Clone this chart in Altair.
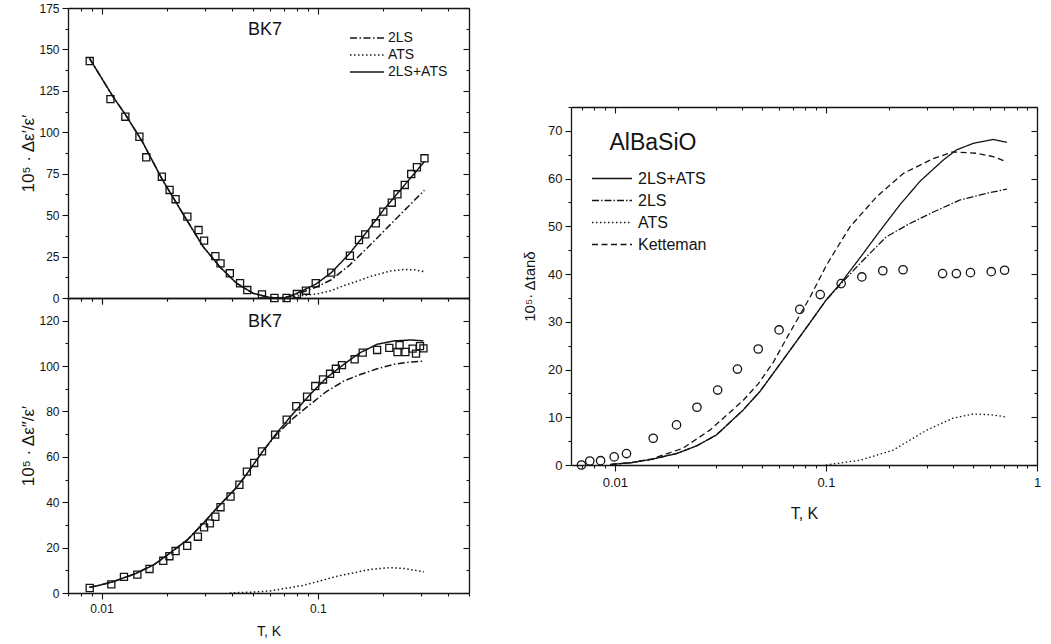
import altair as alt
import pandas as pd

FONT = "Liberation Sans"
INK = "#141414"

# ---------------- BK7, Δε'/ε' (upper left) ----------------
TOP_SQ_T = [0.00882, 0.0110, 0.01289, 0.01497, 0.0161, 0.01901, 0.02064, 0.0220, 0.02494, 0.0281,
            0.0298, 0.0336, 0.0355, 0.0392, 0.0437, 0.0472, 0.0552, 0.0630, 0.0717, 0.0800,
            0.0881, 0.0978, 0.1154, 0.1407, 0.155, 0.1657, 0.1855, 0.2008, 0.2198, 0.2334,
            0.2524, 0.2703, 0.2872, 0.3112]
TOP_SQ_V = [143, 120, 109.4, 97.3, 84.9, 73.2, 65.2, 59.6, 49.1, 41,
            34.6, 25.3, 20.9, 14.9, 8.9, 4.8, 2.2, 0, 0, 2.4,
            4.4, 8.9, 15.3, 25.5, 35, 38.4, 45.1, 52.1, 57.5, 62.6,
            68.2, 74.8, 78.9, 84.3]
TOP_SUM_T = [0.0088, 0.0113, 0.0130, 0.0155, 0.019, 0.024, 0.0295, 0.0352, 0.0421, 0.0503,
             0.060, 0.070, 0.080, 0.098, 0.1155, 0.1406, 0.1687, 0.2008, 0.252, 0.311]
TOP_SUM_V = [144.6, 121.5, 110, 94, 72, 50, 31, 18.9, 8.9, 2.8,
             0.3, 0, 2.8, 8.4, 15.3, 27, 40, 53, 68.2, 82.3]
TOP_2LS_T = [0.0088, 0.0113, 0.0130, 0.0155, 0.019, 0.024, 0.0295, 0.0352, 0.0421, 0.0503,
             0.060, 0.070, 0.080, 0.098, 0.1155, 0.1406, 0.1687, 0.2008, 0.252, 0.311]
TOP_2LS_V = [144.6, 121.5, 110, 94, 72, 50, 31, 18.9, 8.9, 2.8,
             0.3, 0, 2.3, 6.5, 11, 20, 30, 40, 53, 65]
TOP_ATS_T = [0.060, 0.070, 0.080, 0.099, 0.1155, 0.132, 0.147, 0.175, 0.2166, 0.2516, 0.28, 0.311]
TOP_ATS_V = [0, 0.5, 1.2, 2.4, 4.5, 7.5, 9.5, 13, 16.3, 17.2, 17.0, 15.9]

# ---------------- BK7, Δε''/ε' (lower left) ----------------
BOT_SQ_T = [0.00882, 0.0111, 0.0127, 0.01465, 0.01667, 0.0193, 0.0206, 0.0220, 0.0249, 0.0279,
            0.0298, 0.0317, 0.0336, 0.0355, 0.0395, 0.0434, 0.0470, 0.0508, 0.0552, 0.0635,
            0.0718, 0.0795, 0.0892, 0.0973, 0.1057, 0.1139, 0.1212, 0.1293, 0.148, 0.1613,
            0.188, 0.214, 0.2335, 0.2387, 0.2541, 0.2743, 0.2845, 0.2968, 0.3079]
BOT_SQ_V = [2.2, 3.8, 7.1, 8.1, 10.6, 14.2, 16.2, 18.5, 20.8, 24.8,
            28.9, 30.7, 33.6, 37.8, 42.5, 47.7, 53.5, 57.3, 62.4, 69.8,
            76.4, 82.3, 86.5, 91.2, 94.1, 96.6, 98.8, 100.4, 103, 105.9,
            107.1, 108, 106.2, 109.2, 106.2, 107.7, 105.5, 108.8, 107.8]
BOT_SUM_T = [0.0088, 0.0098, 0.0115, 0.0144, 0.0175, 0.0206, 0.025, 0.0295, 0.035, 0.0421, 0.047,
             0.0552, 0.0646, 0.0774, 0.0921, 0.110, 0.132, 0.157, 0.188, 0.2254, 0.27, 0.308]
BOT_SUM_V = [2.5, 3.4, 5.2, 8.6, 12.5, 17.4, 23.5, 30.7, 38.5, 46.5, 52.5,
             62, 70.5, 79.4, 87.5, 94.9, 100.8, 105.9, 109.6, 111.1, 111.5, 111.1]
BOT_2LS_T = [0.0088, 0.0098, 0.0115, 0.0144, 0.0175, 0.0206, 0.025, 0.0295, 0.035, 0.0421, 0.047,
             0.0552, 0.0646, 0.0774, 0.0921, 0.110, 0.132, 0.157, 0.188, 0.2254, 0.27, 0.308]
BOT_2LS_V = [2.5, 3.4, 5.2, 8.6, 12.5, 17.4, 23.5, 30.7, 38.5, 46.5, 52.5,
             62, 70, 77.2, 83.1, 88.9, 93.4, 96.3, 98.8, 100.8, 101.8, 102.2]
BOT_ATS_T = [0.0392, 0.05, 0.060, 0.086, 0.123, 0.175, 0.217, 0.252, 0.309]
BOT_ATS_V = [0, 0.4, 0.9, 3.4, 7.4, 10.4, 11.2, 10.8, 9.3]

# ---------------- AlBaSiO, Δtanδ (right) ----------------
R_CIRC_T = [0.00695, 0.00761, 0.00856, 0.00993, 0.01136, 0.0152, 0.0196, 0.0245, 0.0307, 0.0381,
            0.0478, 0.0600, 0.0752, 0.0940, 0.1181, 0.148, 0.186, 0.232, 0.357, 0.415,
            0.484, 0.607, 0.702]
R_CIRC_V = [0, 0.84, 0.9, 1.7, 2.4, 5.6, 8.4, 12.1, 15.7, 20.1,
            24.3, 28.3, 32.6, 35.7, 38.0, 39.4, 40.7, 40.9, 40.1, 40.1,
            40.3, 40.5, 40.8]
R_SUM_T = [0.0095, 0.012, 0.015, 0.0196, 0.0244, 0.0303, 0.0405, 0.0487, 0.065, 0.0837, 0.1,
           0.118, 0.145, 0.18, 0.224, 0.28, 0.36, 0.415, 0.5, 0.62, 0.72]
R_SUM_V = [0.1, 0.5, 1.2, 2.4, 4.0, 6.3, 11.5, 15.4, 23, 29.7, 34.5,
           38.2, 43.4, 49, 54.5, 59.5, 63.9, 66, 67.4, 68.2, 67.6]
R_2LS_T = [0.0095, 0.012, 0.015, 0.0196, 0.0244, 0.0303, 0.0405, 0.0487, 0.065, 0.0837, 0.1,
           0.118, 0.145, 0.193, 0.25, 0.323, 0.43, 0.575, 0.72]
R_2LS_V = [0.1, 0.5, 1.2, 2.4, 4.0, 6.3, 11.5, 15.4, 23, 29.7, 34.5,
           38.0, 42.2, 47.8, 50.6, 53, 55.5, 56.9, 57.8]
R_ATS_T = [0.1, 0.145, 0.208, 0.30, 0.40, 0.50, 0.62, 0.72]
R_ATS_V = [0, 1, 3.1, 7.3, 9.8, 10.7, 10.5, 10]
R_KET_T = [0.0095, 0.012, 0.015, 0.021, 0.0282, 0.0405, 0.0478, 0.0563, 0.066, 0.0837,
           0.101, 0.13, 0.174, 0.233, 0.323, 0.40, 0.519, 0.62, 0.72]
R_KET_V = [0.1, 0.5, 1.3, 3.5, 7.3, 13.5, 17, 21.5, 27, 35,
           42, 49.9, 56.2, 61.1, 64.2, 65.6, 65.3, 64.6, 63.5]

# ---------------- ticks / labels ----------------
X_TICKS_LEFT = [0.007, 0.008, 0.009, 0.01, 0.02, 0.03, 0.04, 0.05, 0.06, 0.07, 0.08, 0.09,
                0.1, 0.2, 0.3, 0.4, 0.5]
X_TICKS_RIGHT = [0.007, 0.008, 0.009, 0.01, 0.02, 0.03, 0.04, 0.05, 0.06, 0.07, 0.08, 0.09,
                 0.1, 0.2, 0.3, 0.4, 0.5, 0.6, 0.7, 0.8, 0.9, 1]
Y_TICKS_TOP = [0, 12.5, 25, 37.5, 50, 62.5, 75, 87.5, 100, 112.5, 125, 137.5, 150, 162.5, 175]
Y_TICKS_BOT = [0, 10, 20, 30, 40, 50, 60, 70, 80, 90, 100, 110, 120, 130]
Y_TICKS_R = [0, 5, 10, 15, 20, 25, 30, 35, 40, 45, 50, 55, 60, 65, 70, 75]

LEFT_SERIES = ["2LS", "ATS", "2LS+ATS"]
RIGHT_SERIES = ["2LS+ATS", "2LS", "ATS", "Ketteman"]
DASH_LEFT = [[7, 2.5, 1.5, 2.5], [1.5, 2.5], [1, 0]]
DASH_RIGHT = [[1, 0], [7, 2, 1.5, 2], [1.5, 2.5], [6, 3.5]]

MAJOR_LOG = "abs(log(datum.value)/LN10 - round(log(datum.value)/LN10)) < 0.001"
LEGEND_LINE = "M-2,0H2"


def long_df(series):
    rows = []
    for name, (ts, vs) in series.items():
        for t, v in zip(ts, vs):
            rows.append({"T": t, "v": v, "series": name})
    return pd.DataFrame(rows)


def tsize(test, major, minor):
    return {"condition": {"test": test, "value": major}, "value": minor}


def make_axis(values, orient, test, labels, fs, title=None, tfs=14, inward=False,
              label_expr=None, fmt=None, label_pad=3, title_pad=6):
    kw = dict(values=values, orient=orient, grid=False, domainColor=INK, domainWidth=1.3,
              tickColor=INK, tickWidth=1.1,
              tickSize=tsize(test, -6 if inward else 6, -3 if inward else 3),
              labelFlush=False, labelOverlap=False)
    if labels:
        kw.update(labelExpr=label_expr, labelFont=FONT, labelFontSize=fs, labelColor=INK,
                  labelPadding=label_pad)
        if fmt:
            kw.update(format=fmt)
    else:
        kw.update(labels=False)
    if title:
        kw.update(title=title, titleFont=FONT, titleFontSize=tfs, titleFontWeight="normal",
                  titleColor=INK, titlePadding=title_pad)
    else:
        kw.update(title=None)
    return alt.Axis(**kw)


def panel(curves, pts, xdom, xticks, ydom, yticks, ymaj, width, height,
          shape, msize, dash_dom, dash_rng, legend, label_text, label_xy, label_fs,
          xlabels, xtitle, ytitle, fs, xtfs, ytfs, xtitle_pad, ytitle_pad, lw, xlabel_pad):
    xs = alt.Scale(type="log", domain=xdom, nice=False)
    ys = alt.Scale(domain=ydom, nice=False, zero=False)
    y_test = f"datum.value % {ymaj} == 0"
    x_bottom = make_axis(xticks, "bottom", MAJOR_LOG, xlabels, fs, xtitle, xtfs,
                         label_expr=f"{MAJOR_LOG} ? datum.label : ''", fmt="~g",
                         label_pad=xlabel_pad, title_pad=xtitle_pad)
    y_left = make_axis(yticks, "left", y_test, True, fs, ytitle, ytfs,
                       label_expr=f"{y_test} ? datum.label : ''", label_pad=3,
                       title_pad=ytitle_pad)
    x_top = make_axis(xticks, "top", MAJOR_LOG, False, fs, inward=True)
    y_right = make_axis(yticks, "right", y_test, False, fs, inward=True)

    lines = alt.Chart(curves).mark_line(strokeWidth=lw, color=INK).encode(
        x=alt.X("T:Q", scale=xs, axis=x_bottom),
        y=alt.Y("v:Q", scale=ys, axis=y_left),
        strokeDash=alt.StrokeDash("series:N", scale=alt.Scale(domain=dash_dom, range=dash_rng),
                                  legend=legend),
    )
    marks = alt.Chart(pts).mark_point(shape=shape, filled=False, size=msize, color=INK,
                                      strokeWidth=1.3, opacity=1).encode(
        x=alt.X("T:Q", scale=xs, axis=None),
        y=alt.Y("v:Q", scale=ys, axis=None),
    )
    frame = alt.Chart(pts).mark_point(opacity=0).encode(
        x=alt.X("T:Q", scale=xs, axis=x_top),
        y=alt.Y("v:Q", scale=ys, axis=y_right),
    )
    text = alt.Chart(pd.DataFrame({"label": [label_text]})).mark_text(
        font=FONT, fontSize=label_fs, color=INK, align="center", baseline="middle").encode(
        text="label:N", x=alt.value(label_xy[0]), y=alt.value(label_xy[1]))
    return alt.layer(lines, marks, frame, text).resolve_axis(
        x="independent", y="independent").properties(width=width, height=height)


top_curves = long_df({"2LS": (TOP_2LS_T, TOP_2LS_V), "ATS": (TOP_ATS_T, TOP_ATS_V),
                      "2LS+ATS": (TOP_SUM_T, TOP_SUM_V)})
bot_curves = long_df({"2LS": (BOT_2LS_T, BOT_2LS_V), "ATS": (BOT_ATS_T, BOT_ATS_V),
                      "2LS+ATS": (BOT_SUM_T, BOT_SUM_V)})
r_curves = long_df({"2LS": (R_2LS_T, R_2LS_V), "ATS": (R_ATS_T, R_ATS_V),
                    "Ketteman": (R_KET_T, R_KET_V), "2LS+ATS": (R_SUM_T, R_SUM_V)})
top_pts = pd.DataFrame({"T": TOP_SQ_T, "v": TOP_SQ_V})
bot_pts = pd.DataFrame({"T": BOT_SQ_T, "v": BOT_SQ_V})
r_pts = pd.DataFrame({"T": R_CIRC_T, "v": R_CIRC_V})

legend_top = alt.Legend(orient="none", legendX=289.5, legendY=20.5, title=None,
                        symbolType=LEGEND_LINE, symbolSize=289, symbolStrokeWidth=1.3,
                        symbolStrokeColor=INK, labelFont=FONT, labelFontSize=14, labelColor=INK,
                        rowPadding=0, labelOffset=11.5, padding=0)
legend_right = alt.Legend(orient="none", legendX=30, legendY=60.5, title=None,
                          symbolType=LEGEND_LINE, symbolSize=400, symbolStrokeWidth=1.3,
                          symbolStrokeColor=INK, labelFont=FONT, labelFontSize=16, labelColor=INK,
                          rowPadding=3, labelOffset=15, padding=0)

top = panel(top_curves, top_pts, [0.007, 0.5], X_TICKS_LEFT, [0, 175], Y_TICKS_TOP, 25,
            401, 290, "square", 50, LEFT_SERIES, DASH_LEFT, legend_top, "BK7", (197, 22), 18,
            False, None, "10⁵ · Δε′/ε′", 12, 14, 17, 8, 1, 1.5, 3)
bottom = panel(bot_curves, bot_pts, [0.007, 0.5], X_TICKS_LEFT, [0, 130], Y_TICKS_BOT, 20,
               401, 295, "square", 50, LEFT_SERIES, DASH_LEFT, None, "BK7", (197, 24), 18,
               True, "T, K", "10⁵ · Δε″/ε′", 12, 14, 17, 10, 1, 1.5, 4)
right = panel(r_curves, r_pts, [0.0062, 1], X_TICKS_RIGHT, [0, 75], Y_TICKS_R, 10,
              466, 358, "circle", 70, RIGHT_SERIES, DASH_RIGHT, legend_right, "AlBaSiO", (82, 36), 23,
              True, "T, K", "10⁵· Δtanδ", 13, 16, 15, 16, 10, 1.3, 5)

spacer = alt.Chart(pd.DataFrame({"a": [0]})).mark_point(opacity=0).encode(
    x=alt.value(0), y=alt.value(0)).properties(width=466, height=99)

left_col = alt.vconcat(top, bottom, spacing=0, bounds="flush").resolve_scale(
    strokeDash="independent").resolve_legend(strokeDash="independent")
right_col = alt.vconcat(spacer, right, spacing=0, bounds="flush").resolve_scale(
    strokeDash="independent").resolve_legend(strokeDash="independent")

chart = alt.hconcat(left_col, right_col, spacing=52).resolve_scale(
    strokeDash="independent").resolve_legend(strokeDash="independent").configure_view(
    stroke=None).properties(padding={"left": 19, "top": 2, "right": 5, "bottom": 5},
                            background="white")

chart.save("out.html", embed_options={"renderer": "svg", "actions": False})
